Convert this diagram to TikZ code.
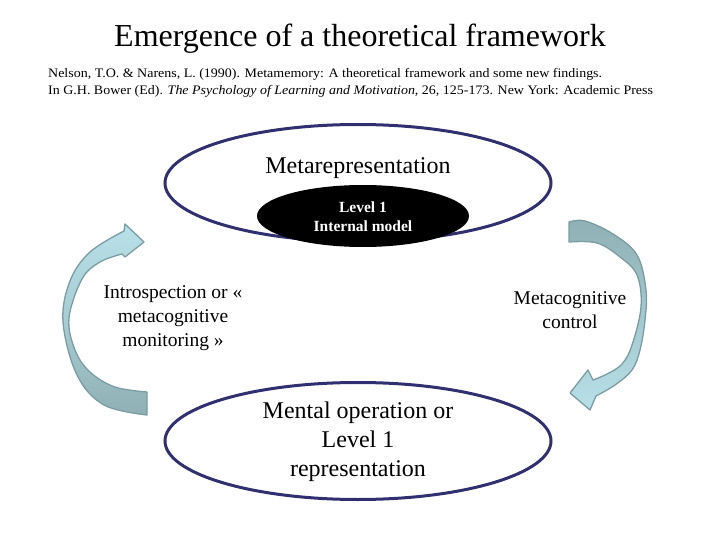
\documentclass[tikz,border=0pt]{standalone}
\usepackage{fontspec}
\setmainfont{Liberation Serif}
\usetikzlibrary{shapes.geometric}
\definecolor{navy}{RGB}{48,48,112}
\definecolor{arrlight}{RGB}{184,224,232}
\definecolor{arrgray}{RGB}{143,176,180}
\definecolor{arredge}{RGB}{122,156,162}
\tikzset{
  ring/.style={ellipse, draw=navy, line width=3pt, minimum width=386pt, minimum height=117pt, inner sep=0pt},
  big/.style={font=\fontsize{24}{29}\selectfont, align=center, inner sep=0pt},
  mid/.style={font=\fontsize{19.5}{24}\selectfont, align=center, inner sep=0pt},
  reftext/.style={inner sep=0pt, anchor=west, font=\fontsize{13}{15}\selectfont},
  curvedarrow/.style={draw=arredge, line width=1.3pt, line join=round},
}
\begin{document}
\begin{tikzpicture}[x=1pt,y=-1pt]
\useasboundingbox (0,0) rectangle (720,540);
% title and reference
\node[inner sep=0pt, font=\fontsize{32}{36}\selectfont] (title) at (360,38.5) {Emergence of a theoretical framework};
\node[reftext] (ref1) at (48,74) {\scalebox{1.075}[1]{Nelson, T.O. \& Narens, L. (1990). Metamemory: A theoretical framework and some new findings.}};
\node[reftext] (ref2) at (48,91) {\scalebox{1.075}[1]{In G.H. Bower (Ed). \textit{The Psychology of Learning and Motivation}, 26, 125-173. New York: Academic Press}};
% ellipses
\node[ring] (meta) at (358,183) {};
\node[ring] (obj) at (358,441) {};
\node[ellipse, fill=black, minimum width=212pt, minimum height=62pt, inner sep=0pt] (model) at (363,216) {};
\node[big] (metatext) at (358,168) {Metarepresentation};
\node[inner sep=0pt, align=center, text=white, font=\bfseries\fontsize{15.5}{19}\selectfont] (modeltext) at (363,217) {Level 1\\Internal model};
\node[big] (objtext) at (358,442) {Mental operation or\\Level 1\\representation};
% side labels
\node[mid] (intro) at (173,318) {Introspection or «\\metacognitive\\monitoring »};
\node[mid] (ctrl) at (570,310) {Metacognitive\\control};
% left curved arrow (monitoring, upward)
\path[curvedarrow, top color=arrlight, bottom color=arrgray, middle color=arrlight!60!arrgray]
  plot[smooth, tension=0.6] coordinates {(147,415) (104,405) (77,375) (63,322) (70,281) (90,252) (124,231)}
  -- (125,224) -- (144,242) -- (125,257) -- (122,254)
  -- plot[smooth, tension=0.6] coordinates {(122,254) (100,262) (82,279) (69,318) (75,350) (90,372) (115,387) (147,392)}
  -- cycle;
% right curved arrow (control, downward)
\path[curvedarrow, top color=arrgray, bottom color=arrlight, middle color=arrlight!50!arrgray]
  plot[smooth, tension=0.6] coordinates {(569,222) (585,221) (613,234) (637,255) (646,290) (645,320) (640,350) (632,370) (615,385) (596,396)}
  -- (590,410) -- (570,393) -- (588,370) -- (593,380)
  -- plot[smooth, tension=0.6] coordinates {(593,380) (607,374) (622,364) (632,345) (641,307) (637,275) (620,257) (597,243) (569,242)}
  -- cycle;
\end{tikzpicture}
\end{document}
